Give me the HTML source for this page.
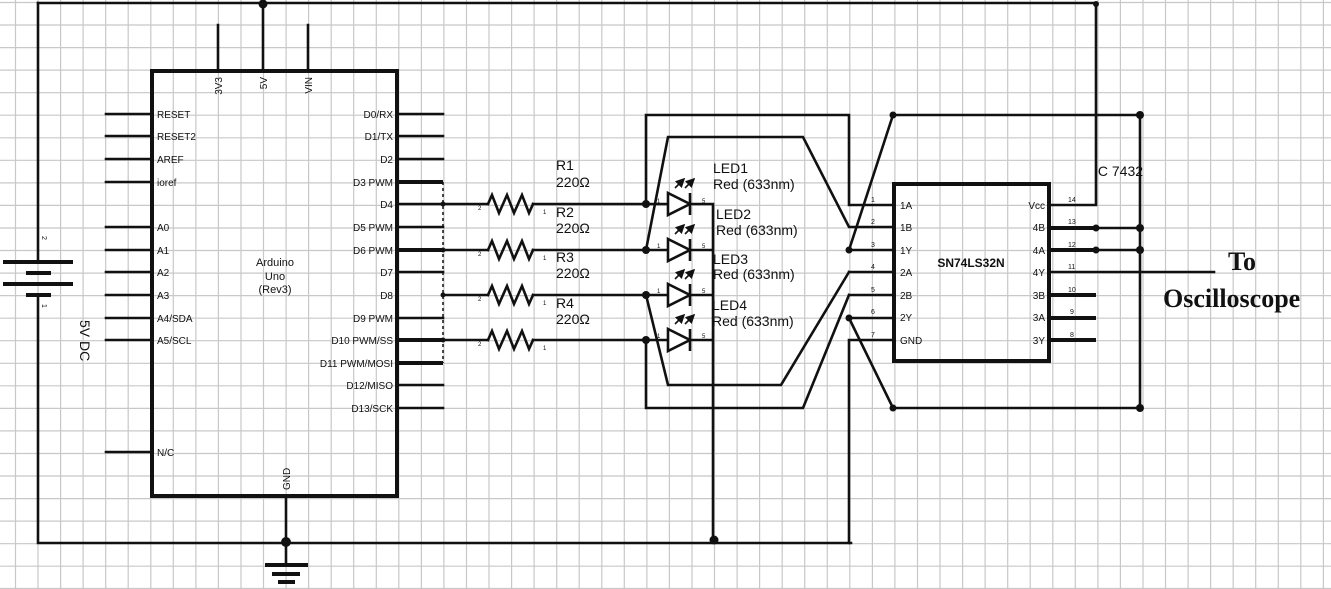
<!DOCTYPE html>
<html><head><meta charset="utf-8"><style>
html,body{margin:0;padding:0;background:#fff;}
svg{display:block;}
text{font-family:"Liberation Sans",sans-serif;fill:#111;}
</style></head><body>
<svg width="1331" height="589" viewBox="0 0 1331 589" xmlns="http://www.w3.org/2000/svg">
<rect width="1331" height="589" fill="#fff"/>
<g stroke="#c8c8c8" stroke-width="1.2" fill="none">
<path d="M15.5 0V589M38 0V589M60.6 0V589M83.1 0V589M105.7 0V589M128.2 0V589M150.8 0V589M173.3 0V589M195.9 0V589M218.4 0V589M241 0V589M263.5 0V589M286.1 0V589M308.6 0V589M331.2 0V589M353.7 0V589M376.3 0V589M398.8 0V589M421.4 0V589M443.9 0V589M466.5 0V589M489 0V589M511.6 0V589M534.1 0V589M556.7 0V589M579.2 0V589M601.8 0V589M624.3 0V589M646.9 0V589M669.4 0V589M692 0V589M714.5 0V589M737.1 0V589M759.6 0V589M782.2 0V589M804.7 0V589M827.3 0V589M849.8 0V589M872.4 0V589M894.9 0V589M917.5 0V589M940 0V589M962.6 0V589M985.1 0V589M1007.7 0V589M1030.2 0V589M1052.8 0V589M1075.3 0V589M1097.9 0V589M1120.4 0V589M1143 0V589M1165.5 0V589M1188.1 0V589M1210.6 0V589M1233.2 0V589M1255.7 0V589M1278.3 0V589M1300.8 0V589M1323.4 0V589"/>
<path d="M0 2.5H1331M0 25H1331M0 47.6H1331M0 70.1H1331M0 92.7H1331M0 115.2H1331M0 137.8H1331M0 160.3H1331M0 182.9H1331M0 205.4H1331M0 228H1331M0 250.5H1331M0 273.1H1331M0 295.6H1331M0 318.2H1331M0 340.7H1331M0 363.3H1331M0 385.8H1331M0 408.4H1331M0 430.9H1331M0 453.5H1331M0 476H1331M0 498.6H1331M0 521.1H1331M0 543.7H1331M0 566.2H1331M0 588.5H1331"/>
</g>
<defs>
<marker id="ar" markerWidth="6" markerHeight="6" refX="5" refY="3" orient="auto"><path d="M0,0 L6,3 L0,6z" fill="#111"/></marker>
</defs>

<g stroke="#111" stroke-width="2.6" fill="none" stroke-linecap="square">
<path d="M38 3H1096V205H1050"/>
<path d="M38 3V262M38 295V543H851"/>
<path d="M263 3V71M218 25V71M308 25V71"/>
<path d="M286 496V565"/>
<path d="M106 114H152M106 136H152M106 159H152M106 182H152M106 227H152M106 250H152M106 272H152M106 295H152M106 318H152M106 340H152M106 452H152"/>
<path d="M397 114H443M397 136H443M397 159H443M397 204H443M397 227H443M397 272H443M397 318H443M397 385H443M397 408H443"/>
<path d="M443 204H488M533 204H668M443 250H488M533 250H668M443 295H488M533 295H668M443 340H488M533 340H668"/>
<path d="M488 204L492 195L499 213L507 195L514 213L522 195L529 213L533 204"/>
<path d="M488 250L492 241L499 259L507 241L514 259L522 241L529 259L533 250"/>
<path d="M488 295L492 286L499 304L507 286L514 304L522 286L529 304L533 295"/>
<path d="M488 340L492 331L499 349L507 331L514 349L522 331L529 349L533 340"/>
<path d="M690 204H713M690 250H713M690 295H713M690 340H713M713 204V540"/>
<path d="M646 204V115H849V205H894"/>
<path d="M646 250L668 137H803L849 227H894"/>
<path d="M849 250H894M849 250L893 115H1140V408H893L849 318H894"/>
<path d="M849 272H894M849 272L781 385H668L646 295"/>
<path d="M849 295H894M849 295L803 408H646V340"/>
<path d="M849 340H894M849 340V543"/>
<path d="M1050 228H1140M1050 250H1140M1050 272H1214"/>
</g>
<g stroke="#111" stroke-width="4" fill="none">
<path d="M397 182H443M397 250H443M397 340H443M397 363H443"/>
<path d="M1050 295H1096M1050 318H1096M1050 340H1096M1050 228H1096M1050 250H1096"/>
<rect x="152" y="71" width="245" height="425"/>
<rect x="894" y="184" width="155" height="177"/>
<path d="M3 262H73M26 273H51M3 284H73M26 295H51"/>
<path d="M265 565H308M272 574H300M278 582H295"/>
</g>
<path d="M443 182V363" stroke="#111" stroke-width="1.5" stroke-dasharray="3,3"/>
<g stroke="#111" stroke-width="2.6" fill="#fff">
<path d="M668 193L690 204L668 215Z"/><path d="M690 193V215"/>
<path d="M668 239L690 250L668 261Z"/><path d="M690 239V261"/>
<path d="M668 284L690 295L668 306Z"/><path d="M690 284V306"/>
<path d="M668 329L690 340L668 351Z"/><path d="M690 329V351"/>
</g>
<g stroke="#111" stroke-width="1.6" marker-end="url(#ar)">
<path d="M675 188L684 179"/><path d="M685 188L694 179"/>
<path d="M675 234L684 225"/><path d="M685 234L694 225"/>
<path d="M675 279L684 270"/><path d="M685 279L694 270"/>
<path d="M675 324L684 315"/><path d="M685 324L694 315"/>
</g>
<g fill="#111">
<circle cx="263" cy="4" r="4.5"/><circle cx="1096" cy="4" r="3"/>
<circle cx="286" cy="542" r="5"/><circle cx="714" cy="540" r="4.5"/>
<circle cx="646" cy="204" r="4"/><circle cx="646" cy="250" r="4"/><circle cx="646" cy="295" r="4"/><circle cx="646" cy="340" r="4"/>
<circle cx="849" cy="250" r="3.5"/><circle cx="849" cy="318" r="3.5"/><circle cx="893" cy="115" r="3.5"/><circle cx="893" cy="408" r="3.5"/>
<circle cx="1140" cy="115" r="4"/><circle cx="1140" cy="228" r="4"/><circle cx="1140" cy="250" r="4"/><circle cx="1140" cy="408" r="4"/>
<circle cx="1096" cy="228" r="3.5"/><circle cx="1096" cy="250" r="3.5"/>
<circle cx="443" cy="204" r="2.5"/><circle cx="443" cy="250" r="2.5"/><circle cx="443" cy="295" r="2.5"/><circle cx="443" cy="340" r="2.5"/>
</g>

<g font-size="10">
<text x="157" y="118">RESET</text><text x="157" y="140">RESET2</text><text x="157" y="163">AREF</text><text x="157" y="186">ioref</text>
<text x="157" y="231">A0</text><text x="157" y="254">A1</text><text x="157" y="276">A2</text><text x="157" y="299">A3</text>
<text x="157" y="322">A4/SDA</text><text x="157" y="344">A5/SCL</text><text x="157" y="456">N/C</text>
</g>
<g font-size="10" text-anchor="end">
<text x="393" y="118">D0/RX</text><text x="393" y="140">D1/TX</text><text x="393" y="163">D2</text><text x="393" y="186">D3 PWM</text>
<text x="393" y="208">D4</text><text x="393" y="231">D5 PWM</text><text x="393" y="254">D6 PWM</text><text x="393" y="276">D7</text>
<text x="393" y="299">D8</text><text x="393" y="322">D9 PWM</text><text x="393" y="344">D10 PWM/SS</text><text x="393" y="367">D11 PWM/MOSI</text>
<text x="393" y="389">D12/MISO</text><text x="393" y="412">D13/SCK</text>
</g>
<g font-size="10" text-anchor="end">
<text transform="translate(222,77) rotate(-90)">3V3</text>
<text transform="translate(267,77) rotate(-90)">5V</text>
<text transform="translate(312,77) rotate(-90)">VIN</text>
</g>
<text transform="translate(290,490) rotate(-90)" font-size="10">GND</text>
<g font-size="11" text-anchor="middle">
<text x="275" y="266">Arduino</text><text x="275" y="280">Uno</text><text x="275" y="293">(Rev3)</text>
</g>
<text transform="translate(80,320) rotate(90)" font-size="14">5V DC</text>
<g font-size="7" fill="#444"><text transform="translate(42,236) rotate(90)">2</text><text transform="translate(42,304) rotate(90)">1</text></g>

<g font-size="6" fill="#333">
<text x="478" y="210">2</text><text x="543" y="214">1</text>
<text x="478" y="256">2</text><text x="543" y="260">1</text>
<text x="478" y="301">2</text><text x="543" y="305">1</text>
<text x="478" y="346">2</text><text x="543" y="350">1</text>
<text x="657" y="203">1</text><text x="702" y="203">5</text>
<text x="657" y="248">1</text><text x="702" y="248">5</text>
<text x="657" y="293">1</text><text x="702" y="293">5</text>
<text x="657" y="338">1</text><text x="702" y="338">5</text>
</g>
<g font-size="14">
<text x="556" y="170">R1</text><text x="556" y="187">220Ω</text>
<text x="556" y="217">R2</text><text x="556" y="233">220Ω</text>
<text x="556" y="262">R3</text><text x="556" y="278">220Ω</text>
<text x="556" y="308">R4</text><text x="556" y="324">220Ω</text>
<text x="713" y="173">LED1</text><text x="713" y="189">Red (633nm)</text>
<text x="716" y="219">LED2</text><text x="716" y="235">Red (633nm)</text>
<text x="713" y="264">LED3</text><text x="713" y="279">Red (633nm)</text>
<text x="712" y="310">LED4</text><text x="712" y="326">Red (633nm)</text>
<text x="1094" y="176">IC 7432</text>
</g>
<g font-size="10">
<text x="900" y="209">1A</text><text x="900" y="231">1B</text><text x="900" y="254">1Y</text><text x="900" y="276">2A</text>
<text x="900" y="299">2B</text><text x="900" y="321">2Y</text><text x="900" y="344">GND</text>
</g>
<g font-size="10" text-anchor="end">
<text x="1045" y="209">Vcc</text><text x="1045" y="231">4B</text><text x="1045" y="254">4A</text><text x="1045" y="276">4Y</text>
<text x="1045" y="299">3B</text><text x="1045" y="321">3A</text><text x="1045" y="344">3Y</text>
</g>
<text x="971" y="267" font-size="12" font-weight="bold" text-anchor="middle">SN74LS32N</text>
<g font-size="7" fill="#333">
<text x="871" y="202">1</text><text x="871" y="224">2</text><text x="871" y="247">3</text><text x="871" y="269">4</text>
<text x="871" y="292">5</text><text x="871" y="314">6</text><text x="871" y="337">7</text>
<text x="1068" y="202">14</text><text x="1068" y="224">13</text><text x="1068" y="247">12</text><text x="1068" y="269">11</text>
<text x="1068" y="292">10</text><text x="1070" y="314">9</text><text x="1070" y="337">8</text>
</g>
<g font-weight="bold" font-size="26">
<text x="1228" y="270" style="font-family:'Liberation Serif',serif">To</text>
<text x="1163" y="307" style="font-family:'Liberation Serif',serif">Oscilloscope</text>
</g>
</svg>
</body></html>
